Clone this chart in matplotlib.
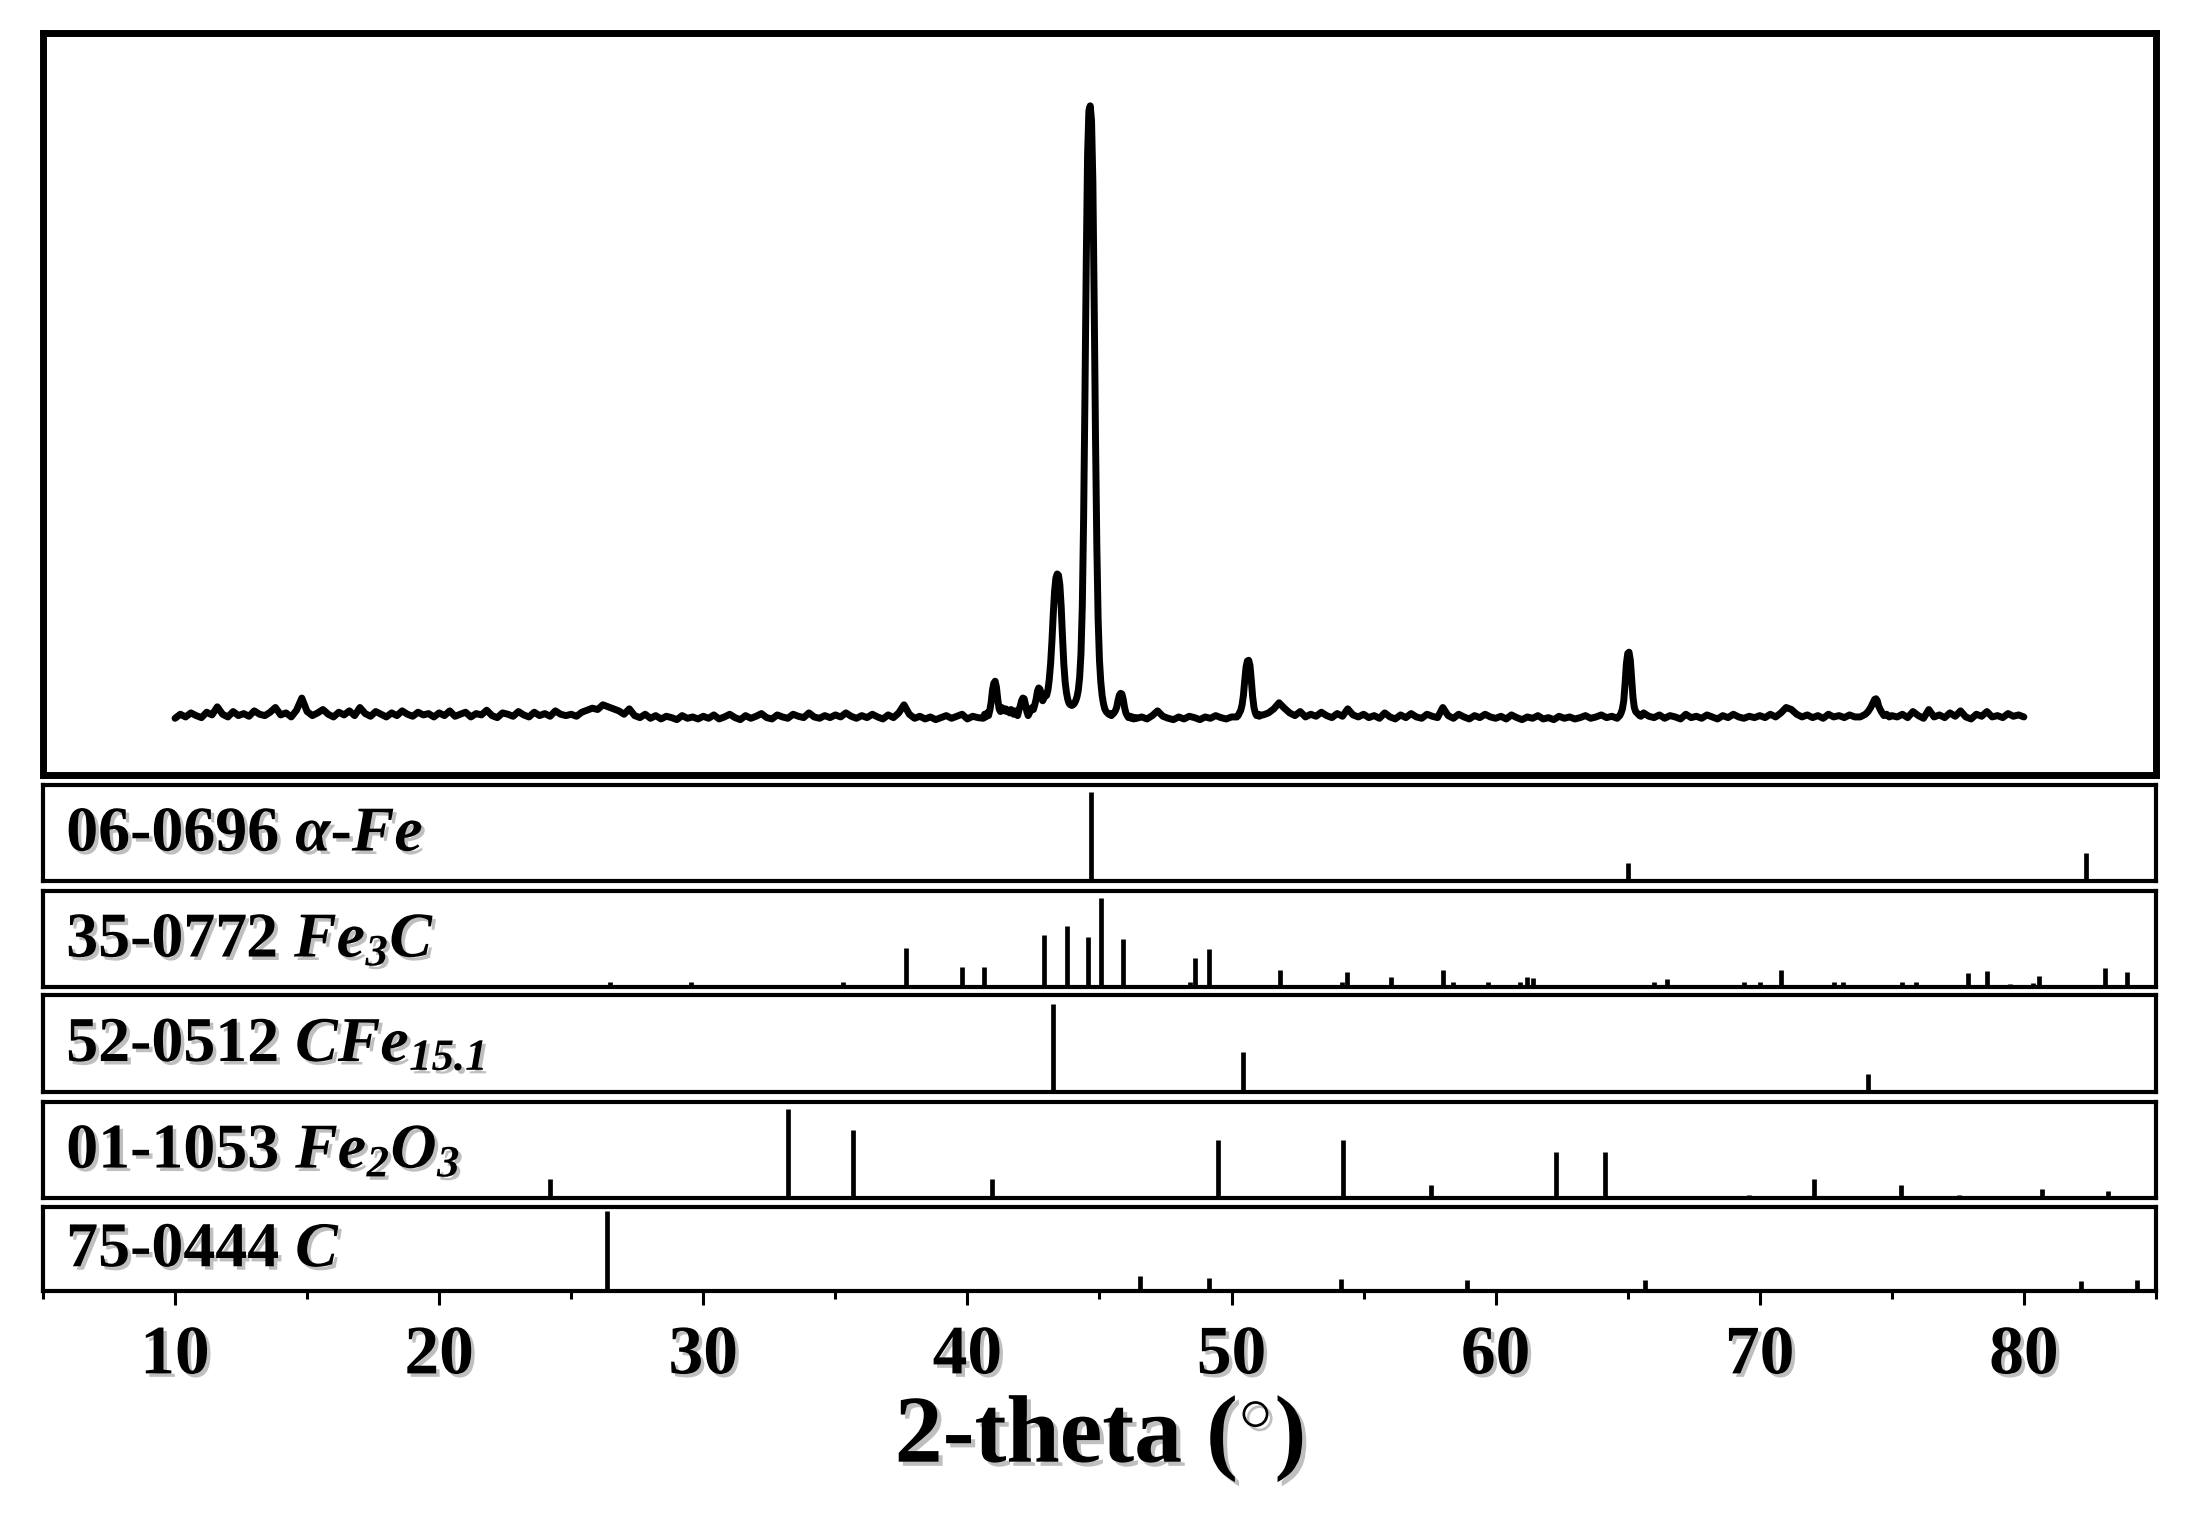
import numpy as np
import matplotlib
matplotlib.use("Agg")
import matplotlib.pyplot as plt
from matplotlib import patheffects as pe
from matplotlib.ticker import MultipleLocator

plt.rcParams['font.family'] = ['Liberation Serif', 'DejaVu Serif']
plt.rcParams['font.weight'] = 'bold'
plt.rcParams['mathtext.fontset'] = 'custom'
plt.rcParams['mathtext.rm'] = 'Liberation Serif'
plt.rcParams['mathtext.it'] = 'Liberation Serif:italic'
plt.rcParams['mathtext.bf'] = 'Liberation Serif:bold'
plt.rcParams['mathtext.bfit'] = 'Liberation Serif:italic:bold'

# ---------------- measured XRD pattern ----------------
scan_start = 10.0
scan_step = 0.2
baseline_counts = [
    84, 90, 86, 92, 88, 85, 93, 89, 101, 90, 86, 94, 88, 91, 87, 95, 90, 88, 93, 100, 89, 92, 86, 96, 114,
    94, 88, 92, 97, 90, 86, 93, 89, 95, 88, 100, 91, 87, 94, 90, 86, 92, 88, 95, 90, 87, 93, 89, 91, 86,
    92, 88, 95, 87, 90, 93, 86, 91, 89, 96, 88, 85, 92, 90, 87, 94, 89, 86, 93, 88, 91, 87, 95, 90, 88,
    90, 87, 93, 96, 99, 97, 104, 101, 98, 95, 90, 98, 88, 85, 90, 84, 88, 83, 87, 85, 82, 88, 84, 86, 83,
    87, 84, 89, 83, 86, 90, 85, 82, 88, 84, 87, 91, 85, 83, 89, 86, 84, 90, 87, 85, 92, 86, 84, 88, 85,
    89, 86, 92, 87, 84, 88, 85, 90, 86, 83, 89, 85, 92, 104, 90, 84, 87, 83, 86, 82, 85, 88, 84, 87, 90,
    83, 87, 85, 86, 90, 88, 85, 87, 90, 88, 85, 87, 90, 88, 85, 87, 90, 88, 85, 87, 90, 88, 85, 87, 90,
    88, 85, 87, 90, 88, 85, 87, 84, 86, 83, 88, 95, 87, 84, 82, 86, 83, 87, 85, 82, 86, 84, 88, 85, 83,
    86, 88, 90, 92, 94, 90, 89, 92, 98, 107, 99, 92, 88, 94, 86, 90, 87, 93, 88, 85, 91, 87, 98, 89, 86,
    90, 85, 88, 84, 92, 86, 83, 89, 85, 91, 86, 84, 90, 87, 85, 100, 88, 84, 90, 86, 83, 88, 85, 90, 86,
    84, 87, 83, 89, 85, 82, 86, 84, 88, 83, 85, 82, 87, 84, 86, 83, 85, 88, 84, 86, 89, 85, 87, 86, 88,
    88, 88, 88, 92, 87, 85, 89, 84, 88, 86, 83, 90, 85, 87, 84, 89, 86, 83, 88, 85, 90, 86, 84, 87, 85,
    88, 85, 90, 86, 92, 100, 97, 90, 86, 89, 85, 88, 84, 90, 86, 88, 85, 89, 86, 90, 88, 88, 88, 88, 88,
    88, 86, 90, 85, 94, 88, 84, 97, 86, 89, 85, 92, 87, 95, 86, 83, 90, 87, 94, 86, 88, 85, 91, 87, 89,
    86,
]

# finely sampled regions around the reflections (2-theta, counts)
peak_region_A_x = [40.60, 40.65, 40.70, 40.75, 40.80, 40.85, 40.90, 40.95, 41.00, 41.05, 41.10, 41.15,
                   41.20, 41.25, 41.30, 41.35, 41.40, 41.45, 41.50, 41.55, 41.60, 41.65, 41.70, 41.75,
                   41.80, 41.85, 41.90, 41.95, 42.00, 42.05, 42.10, 42.15, 42.20, 42.25, 42.30, 42.35,
                   42.40, 42.45, 42.50, 42.55, 42.60, 42.65, 42.70, 42.75, 42.80, 42.85, 42.90, 42.95,
                   43.00, 43.05, 43.10, 43.15, 43.20, 43.25, 43.30, 43.35, 43.40, 43.45, 43.50, 43.55,
                   43.60, 43.65, 43.70, 43.75, 43.80, 43.85, 43.90, 43.95, 44.00, 44.05, 44.10, 44.15,
                   44.20, 44.25, 44.30, 44.35, 44.40, 44.45, 44.50, 44.55, 44.60, 44.65, 44.70, 44.75,
                   44.80, 44.85, 44.90, 44.95, 45.00, 45.05, 45.10, 45.15, 45.20, 45.25, 45.30, 45.35,
                   45.40, 45.45, 45.50, 45.55, 45.60, 45.65, 45.70, 45.75, 45.80, 45.85, 45.90, 45.95,
                   46.00, 46.05, 46.10, 46.15, 46.20, 46.25, 46.30, 46.35, 46.40]
peak_region_A_y = [84, 90, 86, 92, 88, 96, 108, 126, 136, 139, 130, 112,
                   98, 94, 100, 97, 95, 98, 94, 96, 92, 97, 93, 90,
                   95, 92, 88, 96, 102, 110, 114, 113, 104, 94, 88, 92,
                   96, 100, 97, 104, 112, 124, 129, 127, 118, 110, 114, 120,
                   118, 126, 142, 165, 198, 238, 272, 292, 298, 296, 282, 250,
                   205, 165, 138, 122, 112, 106, 104, 103, 104, 106, 110, 116,
                   126, 145, 180, 250, 380, 560, 760, 920, 985, 992, 970, 880,
                   700, 500, 340, 230, 170, 138, 118, 106, 98, 94, 92, 90,
                   91, 88, 90, 92, 95, 100, 110, 118, 121, 120, 112, 100,
                   92, 88, 85, 87, 84, 86, 83, 85, 84]
peak_region_B_x = [50.20, 50.25, 50.30, 50.35, 50.40, 50.45, 50.50, 50.55, 50.60, 50.65, 50.70,
                   50.75, 50.80, 50.85, 50.90, 50.95, 51.00, 51.05, 51.10]
peak_region_B_y = [86, 88, 92, 96, 104, 118, 140, 160, 169, 170, 162,
                   140, 116, 100, 92, 88, 90, 87, 89]
peak_region_C_x = [64.60, 64.65, 64.70, 64.75, 64.80, 64.85, 64.90, 64.95, 65.00, 65.05, 65.10,
                   65.15, 65.20, 65.25, 65.30, 65.35, 65.40, 65.45, 65.50]
peak_region_C_y = [84, 86, 88, 92, 98, 110, 135, 165, 180, 182, 170,
                   142, 115, 100, 94, 92, 90, 88, 87]
peak_region_D_x = [73.80, 73.90, 74.00, 74.10, 74.20, 74.30, 74.35, 74.40, 74.45, 74.50, 74.60,
                   74.70, 74.80, 74.90, 75.00]
peak_region_D_y = [86, 88, 90, 94, 100, 108, 112, 113, 110, 102, 94,
                   88, 90, 86, 88]

# ---------------- reference cards (2-theta, relative intensity) ----------------
card_labels = [r"06-0696 $\mathbfit{α}$-$\mathbfit{Fe}$",
               r"35-0772 $\mathbfit{Fe}_{\mathbfit{3}}\mathbfit{C}$",
               r"52-0512 $\mathbfit{CFe}_{\mathbfit{15.1}}$",
               r"01-1053 $\mathbfit{Fe}_{\mathbfit{2}}\mathbfit{O}_{\mathbfit{3}}$",
               r"75-0444 $\mathbfit{C}$"]

fe_pos = [44.67, 65.02, 82.35]
fe_int = [100, 20, 31]

fe3c_pos = [26.45, 29.55, 35.3, 37.69, 39.8, 40.64, 42.9, 43.77, 44.57, 45.05, 45.9, 48.44, 48.6,
            49.13, 51.83, 54.2, 54.39, 56.05, 58.0, 58.4, 59.7, 60.93, 61.2, 61.4, 64.93, 66.0,
            66.5, 69.42, 70.0, 70.8, 72.8, 73.15, 75.4, 75.9, 77.87, 78.6, 79.48, 80.36, 80.56,
            83.08, 83.9]
fe3c_int = [5, 5, 5, 44, 23, 23, 58, 69, 56, 100, 54, 6, 33,
            43, 19, 5, 17, 11, 19, 5, 6, 5, 11, 10, 2, 5,
            9, 5, 5, 19, 5, 5, 5, 5, 16, 18, 3, 4, 12,
            21, 17]

cfe_pos = [43.24, 50.42, 74.08]
cfe_int = [98, 44, 20]

fe2o3_pos = [24.18, 33.22, 35.68, 40.95, 49.5, 54.22, 57.56, 62.3, 64.15, 69.6, 72.07, 75.33,
             77.55, 80.67, 83.2]
fe2o3_int = [21, 100, 77, 21, 65, 65, 15, 52, 52, 3, 21, 15, 3, 10, 8]

c_pos = [26.35, 46.52, 49.13, 54.15, 58.92, 65.65, 82.16, 84.3]
c_int = [100, 19, 16, 15, 14, 14, 13, 14]

card_pos = [fe_pos, fe3c_pos, cfe_pos, fe2o3_pos, c_pos]
card_int = [fe_int, fe3c_int, cfe_int, fe2o3_int, c_int]
card_ymax = [108, 108, 108, 108, 105]

xticks_major = [10, 20, 30, 40, 50, 60, 70, 80]

# ---------------- assemble measured pattern ----------------
base_x = scan_start + scan_step * np.arange(len(baseline_counts))
base_y = np.array(baseline_counts, dtype=float)
regions = [(peak_region_A_x, peak_region_A_y), (peak_region_B_x, peak_region_B_y),
           (peak_region_C_x, peak_region_C_y), (peak_region_D_x, peak_region_D_y)]
keep = np.ones(len(base_x), dtype=bool)
for rx, ry in regions:
    keep &= ~((base_x >= rx[0] - 1e-9) & (base_x <= rx[-1] + 1e-9))
all_x = np.concatenate([base_x[keep]] + [np.array(rx) for rx, _ in regions])
all_y = np.concatenate([base_y[keep]] + [np.array(ry, dtype=float) for _, ry in regions])
order = np.argsort(all_x)
all_x, all_y = all_x[order], all_y[order]

# ---------------- figure ----------------
fig = plt.figure(figsize=(22.04, 15.13), dpi=100)
L, W = 0.0195, 0.9587
shadow = [pe.SimplePatchShadow(offset=(2.5, -2.5), shadow_rgbFace='0.45', alpha=0.45), pe.Normal()]

ax_main = fig.add_axes([L, 0.4878, W, 0.4904])
ax_main.plot(all_x, all_y, color='black', lw=5.0, solid_joinstyle='round', solid_capstyle='round')
ax_main.set_xlim(5, 85)
ax_main.set_ylim(0, 1100)
ax_main.set_xticks([])
ax_main.set_yticks([])
for s in ax_main.spines.values():
    s.set_linewidth(5)

panel_rects = [(0.4177, 0.0635), (0.3477, 0.0634), (0.2783, 0.0641), (0.2082, 0.0634), (0.1467, 0.0555)]
axes = []
for i, (b, h) in enumerate(panel_rects):
    ax = fig.add_axes([L, b, W, h])
    ax.vlines(card_pos[i], 0, card_int[i], color='black', lw=3.4)
    ax.set_xlim(5, 85)
    ax.set_ylim(0, card_ymax[i])
    ax.set_yticks([])
    for s in ax.spines.values():
        s.set_linewidth(3)
    ax.text(0.011, 0.47, card_labels[i], transform=ax.transAxes, ha='left', va='center',
            fontsize=46, fontweight='bold', path_effects=shadow)
    if i < len(panel_rects) - 1:
        ax.set_xticks([])
    axes.append(ax)

axb = axes[-1]
axb.set_xticks(xticks_major)
axb.xaxis.set_minor_locator(MultipleLocator(5))
axb.tick_params(axis='x', which='major', direction='out', length=10, width=2.2, pad=14, labelsize=50)
axb.tick_params(axis='x', which='minor', direction='out', length=6, width=2.2)
for lab in axb.get_xticklabels():
    lab.set_fontweight('bold')
    lab.set_path_effects(shadow)
axb.set_xlabel(r"2-theta $\mathrm{(^{\circ})}$", fontsize=69, fontweight='bold', labelpad=4,
               path_effects=[pe.SimplePatchShadow(offset=(3, -3), shadow_rgbFace='0.45', alpha=0.45), pe.Normal()])

fig.savefig("out.png", dpi=100)
